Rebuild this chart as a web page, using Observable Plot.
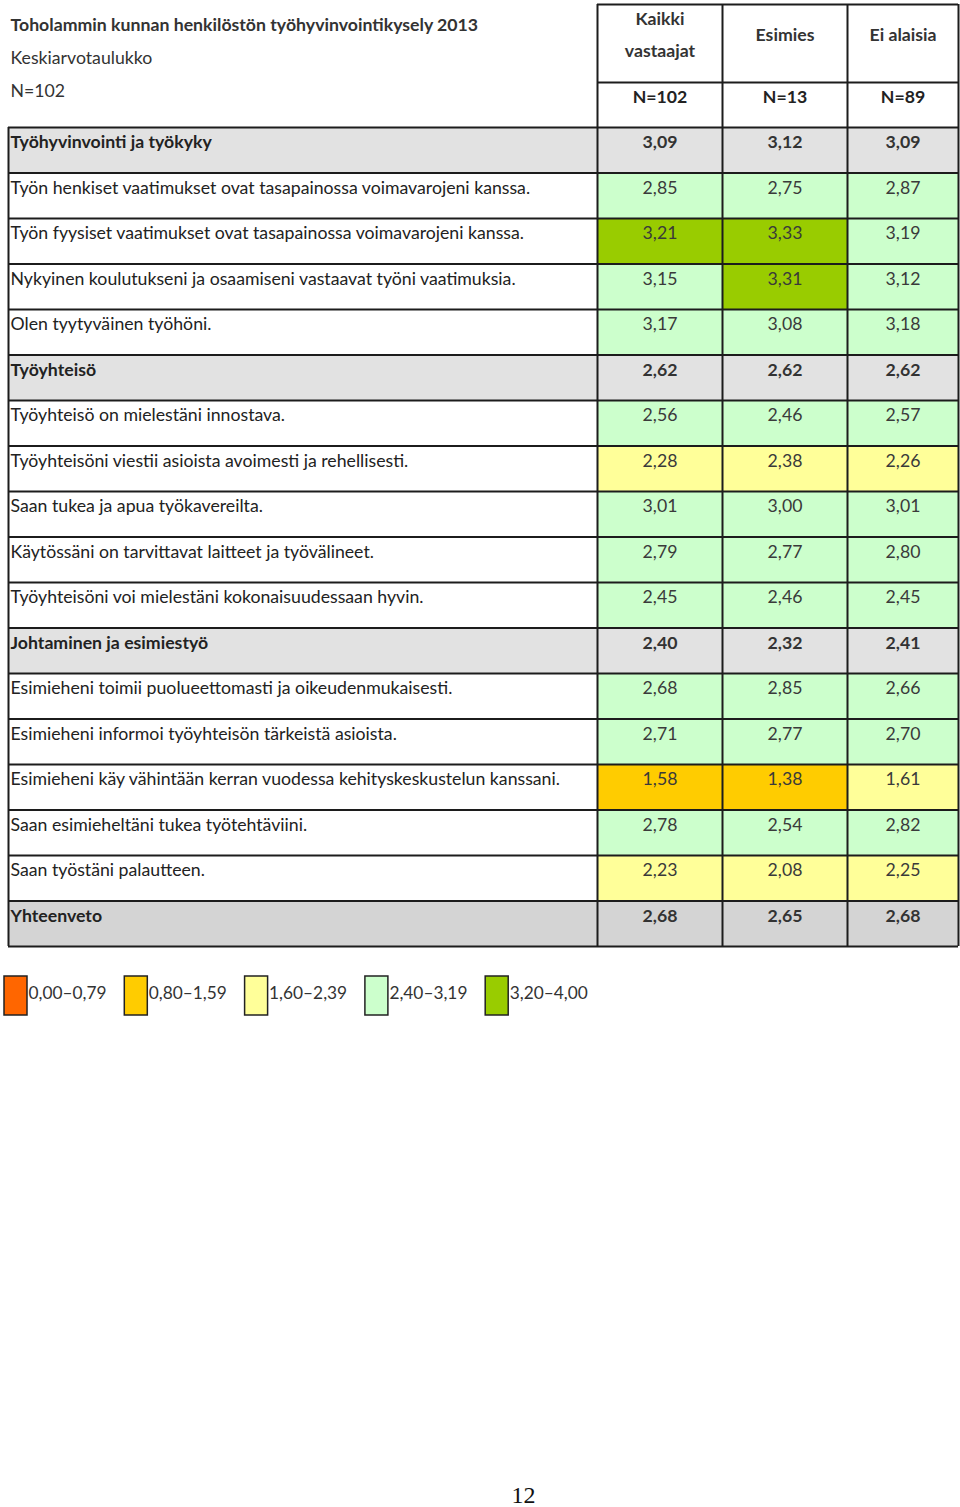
<!DOCTYPE html>
<html><head><meta charset="utf-8">
<script src="https://cdn.jsdelivr.net/npm/d3@7"></script>
<script src="https://cdn.jsdelivr.net/npm/@observablehq/plot@0.6"></script>
<style>body{margin:0;background:#fff;}#chart svg{display:block;}</style>
</head><body><div id="chart"></div>
<script>
// ---- data ----
const title = "Toholammin kunnan henkilöstön työhyvinvointikysely 2013";
const subtitleLines = ["Keskiarvotaulukko", "N=102"];
const groups = ["Kaikki\nvastaajat", "Esimies", "Ei alaisia"];
const groupN = ["N=102", "N=13", "N=89"];
const rowLabels = [
  "Työhyvinvointi ja työkyky",
  "Työn henkiset vaatimukset ovat tasapainossa voimavarojeni kanssa.",
  "Työn fyysiset vaatimukset ovat tasapainossa voimavarojeni kanssa.",
  "Nykyinen koulutukseni ja osaamiseni vastaavat työni vaatimuksia.",
  "Olen tyytyväinen työhöni.",
  "Työyhteisö",
  "Työyhteisö on mielestäni innostava.",
  "Työyhteisöni viestii asioista avoimesti ja rehellisesti.",
  "Saan tukea ja apua työkavereilta.",
  "Käytössäni on tarvittavat laitteet ja työvälineet.",
  "Työyhteisöni voi mielestäni kokonaisuudessaan hyvin.",
  "Johtaminen ja esimiestyö",
  "Esimieheni toimii puolueettomasti ja oikeudenmukaisesti.",
  "Esimieheni informoi työyhteisön tärkeistä asioista.",
  "Esimieheni käy vähintään kerran vuodessa kehityskeskustelun kanssani.",
  "Saan esimieheltäni tukea työtehtäviini.",
  "Saan työstäni palautteen.",
  "Yhteenveto"
];
const rowKind = ["section","item","item","item","item","section","item","item","item","item","item","section","item","item","item","item","item","summary"];
const kaikki   = [3.09,2.85,3.21,3.15,3.17,2.62,2.56,2.28,3.01,2.79,2.45,2.40,2.68,2.71,1.58,2.78,2.23,2.68];
const esimies  = [3.12,2.75,3.33,3.31,3.08,2.62,2.46,2.38,3.00,2.77,2.46,2.32,2.85,2.77,1.38,2.54,2.08,2.65];
const eiAlaisia= [3.09,2.87,3.19,3.12,3.18,2.62,2.57,2.26,3.01,2.80,2.45,2.41,2.66,2.70,1.61,2.82,2.25,2.68];
const thresholds = [0.8, 1.6, 2.4, 3.2];
const bandColors = ["#ff6600", "#ffcc00", "#ffff99", "#ccffcc", "#99cc00"];
const legendLow = [0, 0.8, 1.6, 2.4, 3.2];
const legendLabels = ["0,00–0,79", "0,80–1,59", "1,60–2,39", "2,40–3,19", "3,20–4,00"];
const pageNumber = "12";

// ---- layout ----
const W = 960, H = 1507, FS = 17.7;
const colEdges = [8, 597, 722, 847, 958];
const headTop = 4, headMid = 82, tableTop = 127, rowH = 45.5;
const rowTop = i => tableTop + i * rowH;
const tableBottom = rowTop(rowLabels.length);
const fmt = v => v.toFixed(2).replace(".", ",");
const series = [kaikki, esimies, eiAlaisia];

const cells = [];
rowLabels.forEach((lab, i) => series.forEach((s, j) => cells.push({row: i, col: j, value: s[i], kind: rowKind[i]})));
const rows = rowLabels.map((label, i) => ({row: i, label, kind: rowKind[i]}));
const legend = legendLow.map((v, i) => ({i, v, label: legendLabels[i]}));

const hLines = [
  {y: headTop, x1: colEdges[1], x2: colEdges[4]},
  {y: headMid, x1: colEdges[1], x2: colEdges[4]},
  ...d3.range(rowLabels.length + 1).map(i => ({y: rowTop(i), x1: colEdges[0], x2: colEdges[4]}))
];
const vLines = [
  {x: colEdges[0], y1: tableTop, y2: tableBottom},
  ...colEdges.slice(1).map(x => ({x, y1: headTop, y2: tableBottom}))
];
const colCenter = j => (colEdges[j + 1] + colEdges[j + 2]) / 2;
const isItem = d => d.kind === "item";
const notItem = d => d.kind !== "item";

const chart = Plot.plot({
  width: W, height: H, margin: 0,
  style: {fontFamily: "Lato, Carlito, sans-serif", background: "#fff"},
  x: {type: "linear", domain: [0, W], range: [0, W], axis: null},
  y: {type: "linear", domain: [0, H], range: [0, H], axis: null},
  color: {type: "threshold", domain: thresholds, range: bandColors},
  marks: [
    Plot.rect(rows.filter(notItem), {
      x1: colEdges[0], x2: colEdges[4], y1: d => rowTop(d.row), y2: d => rowTop(d.row) + rowH,
      fill: d => d.kind === "summary" ? "#d4d4d4" : "#e2e2e2"
    }),
    Plot.rect(cells.filter(isItem), {
      x1: d => colEdges[d.col + 1], x2: d => colEdges[d.col + 2],
      y1: d => rowTop(d.row), y2: d => rowTop(d.row) + rowH,
      fill: "value"
    }),
    Plot.ruleY(hLines, {y: "y", x1: "x1", x2: "x2", stroke: "#1c1c1c", strokeWidth: 2}),
    Plot.ruleX(vLines, {x: "x", y1: "y1", y2: "y2", stroke: "#1c1c1c", strokeWidth: 2}),
    Plot.text([title], {x: 10, y: 25, text: d => d, textAnchor: "start", fontSize: FS, fontWeight: "bold", fill: "#333"}),
    Plot.text(subtitleLines, {x: 10, y: (d, i) => 58 + i * 32.5, text: d => d, textAnchor: "start", fontSize: FS, fill: "#333"}),
    Plot.text(groups, {
      x: (d, i) => colCenter(i), y: 30, text: d => d,
      fontSize: FS, fontWeight: "bold", fill: "#333", lineHeight: 1.85
    }),
    Plot.text(groupN, {x: (d, i) => colCenter(i), y: 97, text: d => d, fontSize: FS, fontWeight: "bold", fill: "#222"}),
    Plot.text(rows.filter(isItem), {x: 10, y: d => rowTop(d.row) + 15, text: "label", textAnchor: "start", fontSize: FS, fill: "#222"}),
    Plot.text(rows.filter(notItem), {x: 10, y: d => rowTop(d.row) + 15, text: "label", textAnchor: "start", fontSize: FS, fontWeight: "bold", fill: "#222"}),
    Plot.text(cells.filter(isItem), {x: d => colCenter(d.col), y: d => rowTop(d.row) + 15, text: d => fmt(d.value), fontSize: FS, fill: "#3a3a3a"}),
    Plot.text(cells.filter(notItem), {x: d => colCenter(d.col), y: d => rowTop(d.row) + 15, text: d => fmt(d.value), fontSize: FS, fontWeight: "bold", fill: "#333"}),
    Plot.rect(legend, {
      x1: d => 4 + 120.3 * d.i, x2: d => 27 + 120.3 * d.i, y1: 976, y2: 1015,
      fill: "v", stroke: "#222", strokeWidth: 1.5
    }),
    Plot.text(legend, {x: d => 28 + 120.3 * d.i, y: 993, text: "label", textAnchor: "start", fontSize: 17.3, fill: "#333"}),
    Plot.text([pageNumber], {x: 523, y: 1495, text: d => d, fontSize: 24, fontFamily: "Liberation Serif, serif", fill: "#111"})
  ]
});
document.getElementById("chart").append(chart);
</script>
</body></html>
